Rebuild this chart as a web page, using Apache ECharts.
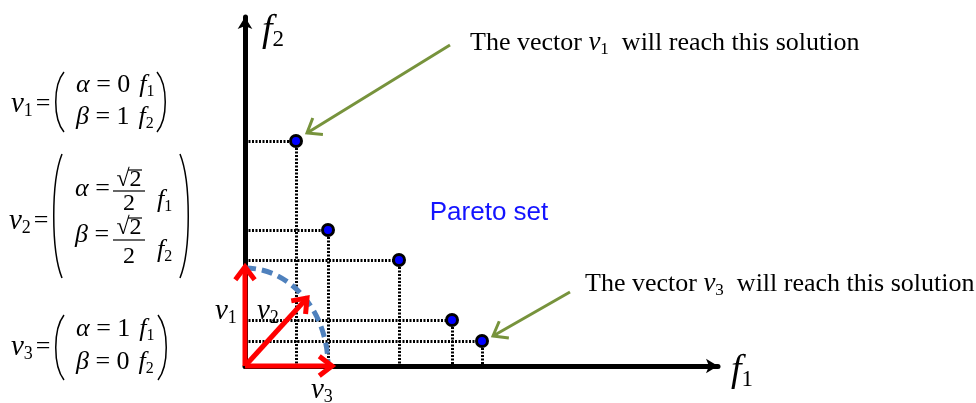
<!DOCTYPE html>
<html>
<head>
<meta charset="utf-8">
<title>Pareto set</title>
<script src="https://cdn.jsdelivr.net/npm/echarts@6/dist/echarts.min.js"></script>
<style>html,body{margin:0;padding:0;background:#fff;}</style>
</head>
<body>
<div id="main" style="width:976px;height:403px;"></div>
<script>
// pareto solutions (f1, f2)
var paretoF1 = [5.1, 8.3, 15.4, 20.7, 23.7];
var paretoF2 = [22.5, 13.6, 10.6, 4.6, 2.5];
// weight vectors v1, v2, v3 (tip of each arrow, from origin)
var vecF1 = [0, 6.2, 8.7];
var vecF2 = [9.9, 6.8, 0];
// dashed quarter arc radii (f1, f2)
var arcRadius = [8.3, 9.8];
// green pointer arrows (from -> to)
var noteFrom = [[20.5, 32.1], [32.5, 7.4]];
var noteTo = [[6.2, 23.3], [24.8, 3.0]];

var SERIF = '"Liberation Serif", "Times New Roman", serif';
var myChart = echarts.init(document.getElementById('main'));

var guideLines = [];
var points = [];
for (var i = 0; i < paretoF1.length; i++) {
    points.push([paretoF1[i], paretoF2[i]]);
    guideLines.push({coords: [[paretoF1[i], paretoF2[i]], [paretoF1[i], 0]]});
    guideLines.push({coords: [[0, paretoF2[i]], [paretoF1[i], paretoF2[i]]]});
}
var vecData = [];
for (var i = 0; i < vecF1.length; i++) vecData.push([0, 0, vecF1[i], vecF2[i]]);
var noteData = [];
for (var i = 0; i < noteFrom.length; i++) noteData.push([noteFrom[i][0], noteFrom[i][1], noteTo[i][0], noteTo[i][1]]);

function arrowItem(color, width, head) {
    return function (params, api) {
        var p0 = api.coord([api.value(0), api.value(1)]);
        var p1 = api.coord([api.value(2), api.value(3)]);
        var a = Math.atan2(p1[1] - p0[1], p1[0] - p0[0]);
        var h1 = [p1[0] - head * Math.cos(a - 0.65), p1[1] - head * Math.sin(a - 0.65)];
        var h2 = [p1[0] - head * Math.cos(a + 0.65), p1[1] - head * Math.sin(a + 0.65)];
        return {type: 'group', children: [
            {type: 'line', shape: {x1: p0[0], y1: p0[1], x2: p1[0], y2: p1[1]},
             style: {stroke: color, lineWidth: width}},
            {type: 'polyline', shape: {points: [h1, p1, h2]},
             style: {stroke: color, lineWidth: width, fill: null, lineJoin: 'miter'}}
        ]};
    };
}

var rich = {
    it: {fontFamily: SERIF, fontStyle: 'italic', fontSize: 26, lineHeight: 30},
    n: {fontFamily: SERIF, fontSize: 26, lineHeight: 30},
    fr: {fontFamily: SERIF, fontSize: 24, lineHeight: 26},
    g: {fontFamily: SERIF, fontSize: 12, lineHeight: 30},
    s: {fontFamily: SERIF, fontSize: 16, lineHeight: 15, verticalAlign: 'bottom'},
    F: {fontFamily: SERIF, fontStyle: 'italic', fontSize: 38, lineHeight: 40},
    FS: {fontFamily: SERIF, fontSize: 23, lineHeight: 20, verticalAlign: 'bottom'},
    V: {fontFamily: SERIF, fontStyle: 'italic', fontSize: 29, lineHeight: 32},
    VS: {fontFamily: SERIF, fontSize: 18, lineHeight: 16, verticalAlign: 'bottom'},
    A: {fontFamily: SERIF, fontSize: 26, lineHeight: 30},
    AI: {fontFamily: SERIF, fontStyle: 'italic', fontSize: 27, lineHeight: 30},
    AS: {fontFamily: SERIF, fontSize: 17, lineHeight: 15, verticalAlign: 'bottom'}
};

function tx(x, y, text) {
    return {type: 'text', x: x, y: y, z: 10,
        style: {text: text, rich: rich, fill: '#000', font: '26px ' + SERIF, align: 'left', verticalAlign: 'middle'}};
}
function ctx(x, y, text) {
    return {type: 'text', x: x, y: y, z: 10,
        style: {text: text, rich: rich, fill: '#000', font: '24px ' + SERIF, align: 'center', verticalAlign: 'middle'}};
}
function paren(x, top, bottom, left) {
    var h = bottom - top, w = 9;
    var ex = left ? x + w : x, cx = left ? x - 2 : x + w + 2;
    return {type: 'bezierCurve', z: 10,
        shape: {x1: ex, y1: top, x2: ex, y2: bottom, cpx1: cx, cpy1: top + h * 0.22, cpx2: cx, cpy2: bottom - h * 0.22},
        style: {stroke: '#000', lineWidth: 1.5, fill: null}};
}
function hline(x1, x2, y) {
    return {type: 'line', z: 10, shape: {x1: x1, y1: y, x2: x2, y2: y}, style: {stroke: '#000', lineWidth: 1.2}};
}
function frac(cx, numY, barY, denY) {
    return [
        ctx(cx, numY, '{fr|√2}'),
        hline(cx - 1, cx + 13, numY - 10),
        hline(cx - 16, cx + 16, barY),
        ctx(cx, denY, '{fr|2}')
    ];
}

var graphics = [
    // v1
    tx(11, 104, '{V|v}{VS|1}{g| }{n|=}'),
    paren(55, 72, 132, true), paren(157, 72, 132, false),
    tx(76, 85, '{it|α}{n| = 0}{g|   }{it|f}{s|1}'),
    tx(76, 117, '{it|β}{n| = 1}{g|   }{it|f}{s|2}'),
    // v2
    tx(9, 221, '{V|v}{VS|2}{g| }{n|=}'),
    paren(53, 154, 278, true), paren(180, 154, 278, false),
    tx(75, 189, '{it|α}{n| =}'),
    tx(75, 235, '{it|β}{n| =}'),
    tx(157, 200, '{it|f}{s|1}'),
    tx(157, 250, '{it|f}{s|2}'),
    // v3
    tx(11, 347, '{V|v}{VS|3}{g| }{n|=}'),
    paren(55, 315, 380, true), paren(158, 315, 380, false),
    tx(76, 329, '{it|α}{n| = 1}{g|   }{it|f}{s|1}'),
    tx(76, 362, '{it|β}{n| = 0}{g|   }{it|f}{s|2}'),
    // axis names
    tx(262, 31, '{F|f}{FS|2}'),
    tx(731, 371, '{F|f}{FS|1}'),
    // vector labels
    tx(215, 311, '{V|v}{VS|1}'),
    tx(257, 311, '{V|v}{VS|2}'),
    tx(311, 390, '{V|v}{VS|3}'),
    // notes
    tx(470, 43, '{A|The vector }{AI|v}{AS|1}{A|  will reach this solution}'),
    tx(585, 284, '{A|The vector }{AI|v}{AS|3}{A|  will reach this solution}'),
    {type: 'text', x: 489, y: 213, z: 10,
     style: {text: 'Pareto set', fill: '#1414ff', font: '26px "Liberation Sans", Arial, sans-serif', align: 'center', verticalAlign: 'middle'}}
];
graphics = graphics.concat(frac(129, 180, 191, 204), frac(129, 228, 240, 257));

var option = {
    animation: false,
    grid: {left: 245, top: 17, width: 473, height: 349},
    xAxis: {
        type: 'value', min: 0, max: 47.3,
        axisLine: {show: true, symbol: ['none', 'arrow'], symbolSize: [11, 12],
                   lineStyle: {color: '#000', width: 5}},
        axisTick: {show: false}, axisLabel: {show: false}, splitLine: {show: false}
    },
    yAxis: {
        type: 'value', min: 0, max: 34.9,
        axisLine: {show: true, symbol: ['none', 'arrow'], symbolSize: [11, 12],
                   lineStyle: {color: '#000', width: 5}},
        axisTick: {show: false}, axisLabel: {show: false}, splitLine: {show: false}
    },
    graphic: graphics,
    series: [
        {
            type: 'lines', coordinateSystem: 'cartesian2d', z: 2,
            lineStyle: {color: '#000', width: 3, type: [2, 1.5], opacity: 1},
            data: guideLines
        },
        {
            type: 'custom', z: 4,
            data: [arcRadius],
            renderItem: function (params, api) {
                var rx = api.value(0), ry = api.value(1), k = 0.5523;
                var p0 = api.coord([0, ry]), c1 = api.coord([k * rx, ry]);
                var c2 = api.coord([rx, k * ry]), p3 = api.coord([rx, 0]);
                return {type: 'bezierCurve',
                    shape: {x1: p0[0], y1: p0[1], x2: p3[0], y2: p3[1], cpx1: c1[0], cpy1: c1[1], cpx2: c2[0], cpy2: c2[1]},
                    style: {stroke: '#4f81bd', lineWidth: 5, lineDash: [11, 6], fill: null}};
            }
        },
        {
            type: 'custom', z: 5,
            data: vecData,
            renderItem: arrowItem('#ff0000', 5, 16)
        },
        {
            type: 'custom', z: 5,
            data: noteData,
            renderItem: arrowItem('#77933c', 3, 16)
        },
        {
            type: 'scatter', z: 6,
            symbolSize: 11,
            itemStyle: {color: '#0000ff', borderColor: '#000', borderWidth: 3, opacity: 1},
            data: points
        }
    ]
};
myChart.setOption(option);
</script>
</body>
</html>
